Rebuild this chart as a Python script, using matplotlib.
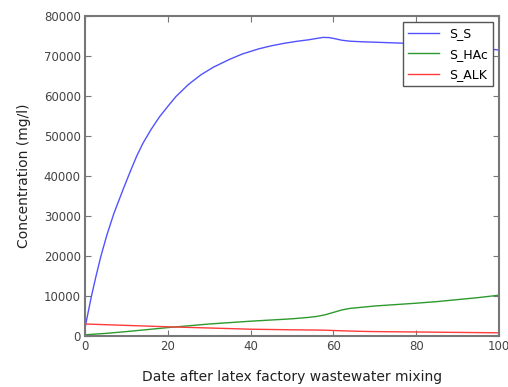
import matplotlib
matplotlib.use("Agg")
import matplotlib.pyplot as plt

# Data
ss_x = [0, 0.5, 1.5, 2.6, 3.8, 5.3, 7, 9.3, 11, 12.5, 14, 16, 18, 20, 22, 25, 28, 31, 35,
        38, 42, 45, 48, 51, 54, 56, 57.5, 59, 60.5, 62, 64, 67, 70, 74, 78, 82, 86, 90, 94, 97, 100]
ss_y = [2000, 4600, 9700, 14700, 19800, 25300, 30700, 36900, 41300, 45000, 48200, 51700, 54800, 57400,
        59900, 62900, 65300, 67200, 69200, 70500, 71800, 72550, 73150, 73650, 74050, 74400, 74650, 74600,
        74300, 73950, 73700, 73550, 73450, 73300, 73150, 72950, 72700, 72400, 72000, 71800, 71500]

hac_x = [0, 5, 10, 15, 20, 25, 30, 35, 40, 45, 50, 54, 56, 58, 60, 62, 64, 66, 70, 75, 80, 85, 90, 95, 100]
hac_y = [300, 650, 1100, 1600, 2100, 2550, 3000, 3350, 3700, 4000, 4300, 4650, 4900, 5300, 5900, 6500,
         6900, 7100, 7500, 7850, 8200, 8600, 9100, 9600, 10200]

alk_x = [0, 10, 20, 30, 40, 50, 55, 58, 62, 66, 70, 80, 90, 100]
alk_y = [3000, 2650, 2300, 2000, 1700, 1550, 1500, 1450, 1300, 1180, 1100, 1000, 900, 800]

labels = ["S_S", "S_HAc", "S_ALK"]
xticks = [0, 20, 40, 60, 80, 100]
yticks = [0, 10000, 20000, 30000, 40000, 50000, 60000, 70000, 80000]

fig = plt.figure(figsize=(5.08, 3.87), dpi=100)
ax = fig.add_axes([85/508, 1 - 336/387, (499-85)/508, (336-16)/387])

ax.plot(ss_x, ss_y, color="#5252ff", lw=1.0, label=labels[0])
ax.plot(hac_x, hac_y, color="#2e9a2e", lw=1.0, label=labels[1])
ax.plot(alk_x, alk_y, color="#ff3b3b", lw=1.0, label=labels[2])

ax.set_xlim(0, 100)
ax.set_ylim(0, 80000)
ax.set_xticks(xticks)
ax.set_yticks(yticks)
ax.tick_params(direction="in", top=True, right=True, length=4, width=0.8,
               colors="#777777", labelcolor="#444444", labelsize=8.5, pad=3)
for s in ax.spines.values():
    s.set_color("#777777")
    s.set_linewidth(1.5)

ax.set_xlabel("Date after latex factory wastewater mixing", fontsize=10, color="#222222", labelpad=12)
ax.set_ylabel("Concentration (mg/l)", fontsize=10, color="#222222", labelpad=9)

leg = ax.legend(loc="upper right", fontsize=9, fancybox=False, framealpha=1,
                borderaxespad=0.5, handlelength=2.5, labelspacing=0.6)
leg.get_frame().set_edgecolor("#555555")
leg.get_frame().set_linewidth(1.0)

fig.savefig("out.png", dpi=100)
